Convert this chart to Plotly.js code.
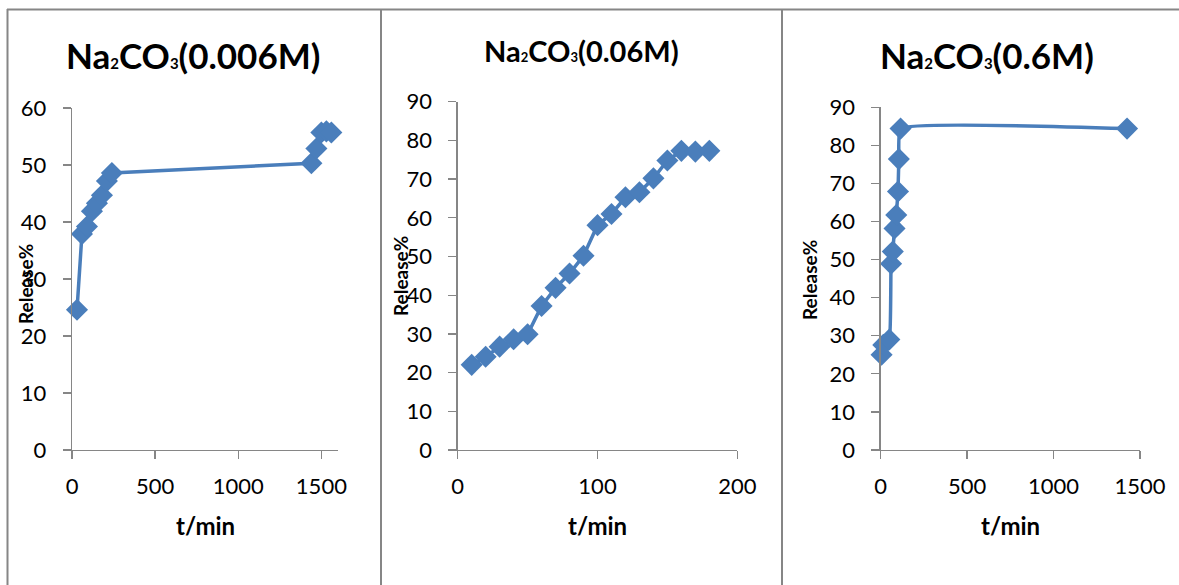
<!DOCTYPE html>
<html>
<head>
<meta charset="utf-8">
<script src="https://cdn.plot.ly/plotly-3.0.1.min.js"></script>
<style>
html,body{margin:0;padding:0;background:#fff;}
#chart{width:1179px;height:585px;}
</style>
</head>
<body>
<div id="chart"></div>
<script>
// Panel titles (chemical formula with small subscripts)
const titles = [
  "Na<span style='font-size:15px'>2</span>CO<span style='font-size:15px'>3</span>(0.006M)",
  "Na<span style='font-size:13px'>2</span>CO<span style='font-size:13px'>3</span>(0.06M)",
  "Na<span style='font-size:15px'>2</span>CO<span style='font-size:15px'>3</span>(0.6M)"
];
const xTitle = "t/min";
const yTitle = "Release%";

// Na2CO3 0.006M
const t1 = [30, 60, 90, 120, 150, 180, 210, 240, 1440, 1470, 1500, 1530, 1560];
const r1 = [24.6, 37.9, 39.2, 41.9, 43.3, 44.7, 47.2, 48.6, 50.3, 52.9, 55.7, 55.9, 55.7];

// Na2CO3 0.06M
const t2 = [10, 20, 30, 40, 50, 60, 70, 80, 90, 100, 110, 120, 130, 140, 150, 160, 170, 180];
const r2 = [22.0, 24.1, 26.7, 28.6, 29.9, 37.2, 41.9, 45.6, 50.2, 58.1, 61.0, 65.3, 66.6, 70.2, 74.8, 77.3, 77.1, 77.3];

// Na2CO3 0.6M
const t3 = [5, 15, 50, 60, 70, 80, 90, 100, 105, 115, 1425];
const r3 = [25.0, 27.6, 29.0, 48.9, 52.1, 58.2, 61.7, 67.9, 76.4, 84.4, 84.4];

const W = 1179, H = 585;
const blue = "#4A7EBB";
const grey = "#868686";
const FONT = "Lato, sans-serif";

function px(x){return x / W;}
function py(y){return 1 - y / H;}

const markerStyle = {symbol: "diamond", size: 17, color: blue};
const traces = [
  {x: t1, y: r1, xaxis: "x", yaxis: "y", mode: "lines+markers", line: {color: blue, width: 3.5}, marker: markerStyle, cliponaxis: false},
  {x: t2, y: r2, xaxis: "x2", yaxis: "y2", mode: "lines+markers", line: {color: blue, width: 3.5}, marker: markerStyle, cliponaxis: false},
  {x: t3, y: r3, xaxis: "x3", yaxis: "y3", mode: "lines+markers", line: {color: blue, width: 3.5, shape: "spline", smoothing: 0.35}, marker: markerStyle, cliponaxis: false}
];

function xax(dom, range, dtick, anchor){
  return {domain: dom, range: range, dtick: dtick, tick0: 0, anchor: anchor,
    showgrid: false, zeroline: false, showline: true, linecolor: grey, linewidth: 1.3,
    ticks: "outside", ticklen: 8, tickcolor: grey, tickwidth: 1.3, ticklabelstandoff: 8,
    tickfont: {family: FONT, size: 22, color: "#000"}, fixedrange: true};
}
function yax(dom, range, anchor){
  return {domain: dom, range: range, dtick: 10, tick0: 0, anchor: anchor,
    showgrid: false, zeroline: false, showline: true, linecolor: grey, linewidth: 1.3,
    ticks: "outside", ticklen: 8, tickcolor: grey, tickwidth: 1.3, ticklabelstandoff: 12,
    tickfont: {family: FONT, size: 22, color: "#000"}, fixedrange: true};
}

const yDom1 = [py(450), py(108)];
const yDom2 = [py(450), py(101.7)];
const yDom3 = [py(450), py(107.3)];

function ann(text, x, y, size, angle){
  return {text: "<b>" + text + "</b>", xref: "paper", yref: "paper", x: px(x), y: py(y), showarrow: false,
    textangle: angle || 0, xanchor: "center", yanchor: "middle", font: {family: FONT, size: size, color: "#000"}};
}

const layout = {
  width: W, height: H,
  margin: {l: 0, r: 0, t: 0, b: 0},
  paper_bgcolor: "#fff", plot_bgcolor: "rgba(0,0,0,0)",
  showlegend: false,
  xaxis: xax([px(72), px(338)], [0, 1600], 500, "y"),
  yaxis: yax(yDom1, [0, 60], "x"),
  xaxis2: xax([px(457.7), px(737.3)], [0, 200], 100, "y2"),
  yaxis2: yax(yDom2, [0, 90], "x2"),
  xaxis3: xax([px(880.7), px(1140)], [0, 1500], 500, "y3"),
  yaxis3: yax(yDom3, [0, 90], "x3"),
  shapes: [
    {type: "line", xref: "paper", yref: "paper", x0: px(7), x1: 1, y0: py(9.5), y1: py(9.5), line: {color: grey, width: 2}},
    {type: "line", xref: "paper", yref: "paper", x0: px(7.5), x1: px(7.5), y0: py(9), y1: 0, line: {color: grey, width: 2}},
    {type: "line", xref: "paper", yref: "paper", x0: px(381), x1: px(381), y0: py(9), y1: 0, line: {color: grey, width: 2}},
    {type: "line", xref: "paper", yref: "paper", x0: px(782), x1: px(782), y0: py(9), y1: 0, line: {color: grey, width: 2}}
  ],
  annotations: [
    ann(titles[0], 193, 55, 35),
    ann(titles[1], 581, 50, 29),
    ann(titles[2], 987, 55, 35),
    ann(xTitle, 205, 525, 24),
    ann(xTitle, 597, 525, 24),
    ann(xTitle, 1010, 525, 24),
    ann(yTitle, 25, 284, 19, -90),
    ann(yTitle, 400, 276, 19, -90),
    ann(yTitle, 809, 280, 19, -90)
  ]
};

Plotly.newPlot("chart", traces, layout, {displayModeBar: false, staticPlot: true});
</script>
</body>
</html>
